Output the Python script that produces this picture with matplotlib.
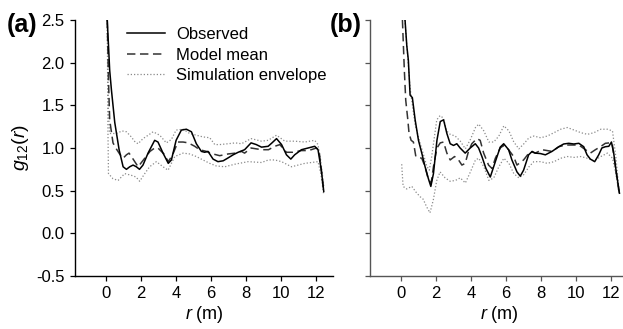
import matplotlib
matplotlib.use("Agg")
import matplotlib.pyplot as plt
from matplotlib.lines import Line2D

plt.rcParams['font.family'] = ['Liberation Sans', 'DejaVu Sans']
plt.rcParams['mathtext.fontset'] = 'custom'
plt.rcParams['mathtext.rm'] = 'Liberation Sans'
plt.rcParams['mathtext.it'] = 'Liberation Sans:italic'

# ---- Panel (a) data ----
ra_obs = [0.05,0.19,0.29,0.48,0.73,0.96,1.15,1.34,1.53,1.72,1.9,2.1,2.39,2.77,2.96,3.25,3.55,3.73,4.0,4.3,4.59,4.88,5.16,5.45,5.64,5.83,6.12,6.4,6.7,6.95,7.27,7.56,7.93,8.3,8.6,8.9,9.28,9.5,9.76,10.05,10.33,10.58,10.8,11.19,11.57,11.95,12.14,12.33,12.47]
ga_obs = [2.5,1.91,1.68,1.3,0.98,0.78,0.75,0.78,0.80,0.78,0.75,0.80,0.94,1.09,1.07,0.94,0.82,0.86,1.09,1.21,1.22,1.19,1.05,0.96,0.95,0.96,0.87,0.84,0.85,0.88,0.92,0.95,0.98,1.06,1.04,1.01,1.02,1.06,1.11,1.04,0.92,0.87,0.92,0.98,1.0,1.02,0.98,0.74,0.49]

ra_mean = [0.05,0.12,0.19,0.38,0.57,0.76,0.96,1.15,1.3,1.5,1.82,2.2,2.5,2.77,2.96,3.3,3.55,3.8,4.1,4.4,4.7,5.07,5.35,5.74,6.12,6.5,6.98,7.4,7.75,7.93,8.3,8.6,8.9,9.3,9.66,9.95,10.33,10.7,11.19,11.6,12.05,12.2,12.47]
ga_mean = [2.5,1.8,1.33,1.06,0.99,0.93,0.88,0.92,0.94,0.88,0.78,0.88,0.96,1.0,1.0,0.93,0.84,0.92,1.07,1.07,1.06,1.02,0.98,0.96,0.93,0.91,0.93,0.94,0.96,0.94,1.0,0.99,0.98,0.98,1.02,1.04,0.95,0.95,0.97,0.97,1.0,0.97,0.49]

ra_up = [0.05,0.12,0.19,0.57,0.9,1.15,1.43,1.65,1.82,2.1,2.4,2.68,3.06,3.44,3.73,4.0,4.4,4.78,5.16,5.54,5.93,6.22,6.5,6.98,7.4,7.75,8.3,8.9,9.28,9.76,10.24,10.8,11.38,11.95,12.14,12.3,12.47]
ga_up = [2.5,1.4,1.17,1.17,1.2,1.19,1.13,1.07,1.05,1.11,1.15,1.19,1.15,1.06,1.10,1.21,1.22,1.17,1.15,1.13,1.12,1.04,1.04,1.05,1.06,1.05,1.11,1.08,1.09,1.15,1.08,1.08,1.07,1.09,1.04,0.85,0.55]

ra_lo = [0.05,0.09,0.12,0.38,0.67,1.05,1.43,1.7,1.91,2.2,2.48,2.87,3.25,3.54,3.92,4.4,4.78,5.16,5.54,5.93,6.3,6.79,7.37,8.13,8.9,9.3,9.66,10.05,10.62,11.0,11.38,12.14,12.3,12.47]
ga_lo = [2.5,1.2,0.70,0.64,0.62,0.70,0.68,0.66,0.61,0.70,0.78,0.84,0.78,0.74,0.90,0.94,0.93,0.90,0.86,0.82,0.79,0.78,0.81,0.84,0.83,0.86,0.86,0.84,0.78,0.80,0.82,0.84,0.7,0.45]

# ---- Panel (b) data ----
rb_obs = [0.21,0.31,0.40,0.50,0.63,0.79,0.98,1.17,1.36,1.55,1.69,1.84,2.04,2.23,2.42,2.61,2.8,2.99,3.18,3.37,3.66,3.95,4.24,4.43,4.62,4.85,5.1,5.39,5.67,5.87,6.15,6.34,6.63,6.82,7.01,7.3,7.5,7.68,7.97,8.26,8.64,9.03,9.31,9.6,9.89,10.18,10.46,10.65,10.84,11.09,11.32,11.5,11.7,11.9,12.05,12.18,12.34,12.51]
gb_obs = [2.5,2.2,2.03,1.62,1.59,1.33,1.09,0.94,0.78,0.64,0.55,0.70,1.09,1.31,1.33,1.17,1.05,1.03,1.05,1.0,0.94,1.0,1.05,1.0,0.9,0.76,0.66,0.84,1.01,1.05,0.98,0.86,0.72,0.67,0.74,0.92,0.96,0.94,0.935,0.92,0.96,1.015,1.047,1.055,1.047,1.055,1.015,0.92,0.87,0.84,0.92,1.0,1.015,1.02,1.07,0.94,0.70,0.47]

rb_mean = [0.06,0.17,0.25,0.37,0.44,0.56,0.69,0.83,0.98,1.17,1.36,1.55,1.71,1.84,2.04,2.23,2.42,2.61,2.8,3.05,3.28,3.47,3.66,3.85,4.04,4.33,4.52,4.72,5.0,5.2,5.39,5.67,5.87,6.15,6.44,6.63,7.01,7.39,7.68,8.07,8.36,8.64,9.03,9.41,9.79,10.18,10.56,10.84,11.13,11.42,11.7,11.94,12.09,12.28,12.51]
gb_mean = [2.5,1.91,1.56,1.33,1.17,1.09,1.07,0.90,0.89,0.88,0.78,0.63,0.59,0.78,1.0,1.06,1.07,0.94,0.86,0.90,0.86,0.80,0.82,0.96,1.05,1.11,1.09,0.94,0.80,0.76,0.88,1.0,1.03,0.98,0.90,0.80,0.86,0.96,0.94,0.98,0.97,0.96,1.015,1.035,1.035,1.035,0.98,0.94,0.98,1.015,1.055,1.06,1.055,0.78,0.45]

rb_up = [0.2,0.5,0.79,1.07,1.26,1.45,1.6,1.74,2.03,2.22,2.41,2.6,2.8,3.09,3.38,3.67,3.96,4.25,4.44,4.73,5.02,5.3,5.59,5.88,6.17,6.45,6.74,7.03,7.32,7.6,7.99,8.37,8.76,9.14,9.52,9.91,10.29,10.67,11.05,11.44,11.82,12.11,12.3,12.5]
gb_up = [2.5,1.7,1.27,1.06,0.93,0.79,0.74,0.9,1.33,1.38,1.35,1.2,1.16,1.14,1.08,0.99,1.1,1.24,1.28,1.2,1.07,1.07,1.14,1.26,1.2,1.07,0.99,1.05,1.12,1.14,1.12,1.14,1.18,1.22,1.24,1.21,1.18,1.16,1.18,1.22,1.22,1.2,0.9,0.47]

rb_lo = [0.02,0.05,0.1,0.3,0.6,0.85,1.07,1.25,1.45,1.64,1.83,2.03,2.22,2.51,2.8,3.1,3.38,3.67,3.96,4.25,4.44,4.73,5.02,5.3,5.59,5.88,6.17,6.45,6.74,7.03,7.32,7.6,7.99,8.37,8.76,9.14,9.52,9.91,10.29,10.67,11.05,11.44,11.82,12.11,12.3,12.5]
gb_lo = [0.81,0.7,0.55,0.52,0.55,0.48,0.43,0.40,0.31,0.24,0.39,0.62,0.72,0.65,0.61,0.62,0.65,0.59,0.72,0.86,0.88,0.78,0.62,0.65,0.78,0.88,0.82,0.70,0.65,0.69,0.78,0.84,0.84,0.82,0.84,0.88,0.90,0.89,0.90,0.88,0.85,0.90,0.94,0.88,0.7,0.45]

x_ticks = [0, 2, 4, 6, 8, 10, 12]
y_ticks = [-0.5, 0.0, 0.5, 1.0, 1.5, 2.0, 2.5]
y_tick_labels = ['-0.5', '0.0', '0.5', '1.0', '1.5', '2.0', '2.5']
legend_labels = ['Observed', 'Model mean', 'Simulation envelope']

fig = plt.figure(figsize=(6.23, 3.29), dpi=100)
W, H = 623, 329
ax_a = fig.add_axes([75 / W, 1 - 276 / H, 258 / W, 256 / H])
ax_b = fig.add_axes([370 / W, 1 - 276 / H, 258 / W, 256 / H])

ENV_STYLE = dict(color='#8a8a8a', lw=0.9, ls=(0, (1, 1.6)))
MEAN_STYLE = dict(color='#333333', lw=1.1, ls=(0, (5.5, 3)))
OBS_STYLE = dict(color='black', lw=1.1)

def draw(ax, obs, mean, up, lo, spine_color):
    ax.plot(*up, **ENV_STYLE)
    ax.plot(*lo, **ENV_STYLE)
    ax.plot(*mean, **MEAN_STYLE)
    ax.plot(*obs, **OBS_STYLE)
    ax.set_xlim(-1.8, 13)
    ax.set_ylim(-0.5, 2.5)
    ax.set_xticks(x_ticks)
    ax.set_yticks(y_ticks)
    for s in ['top', 'right']:
        ax.spines[s].set_visible(False)
    for s in ['left', 'bottom']:
        ax.spines[s].set_color(spine_color)
        ax.spines[s].set_linewidth(1.0)
    ax.tick_params(direction='out', length=3.5, width=0.9, color=spine_color,
                   labelsize=12, pad=4)
    ax.set_xlabel('$r$ (m)', fontsize=13, labelpad=2)

draw(ax_a, (ra_obs, ga_obs), (ra_mean, ga_mean), (ra_up, ga_up), (ra_lo, ga_lo), 'black')
draw(ax_b, (rb_obs, gb_obs), (rb_mean, gb_mean), (rb_up, gb_up), (rb_lo, gb_lo), '#555555')

ax_a.set_yticklabels(y_tick_labels)
ax_b.set_yticklabels([])
ax_a.set_ylabel(r'$g_{\mathit{12}}(r)$', fontsize=14, labelpad=4)

handles = [Line2D([], [], **OBS_STYLE),
           Line2D([], [], **MEAN_STYLE),
           Line2D([], [], **ENV_STYLE)]
ax_a.legend(handles, legend_labels, loc='upper left', bbox_to_anchor=((127 - 75) / 258, 1 - 7 / 256),
            frameon=False, fontsize=12, handlelength=2.3, handletextpad=0.65,
            labelspacing=0.33, borderpad=0, borderaxespad=0)

fig.text(7 / W, 1 - 25 / H, '(a)', fontsize=18, fontweight='bold', va='center', ha='left')
fig.text(362 / W, 1 - 25 / H, '(b)', fontsize=18, fontweight='bold', va='center', ha='right')

fig.savefig('out.png', dpi=100)
